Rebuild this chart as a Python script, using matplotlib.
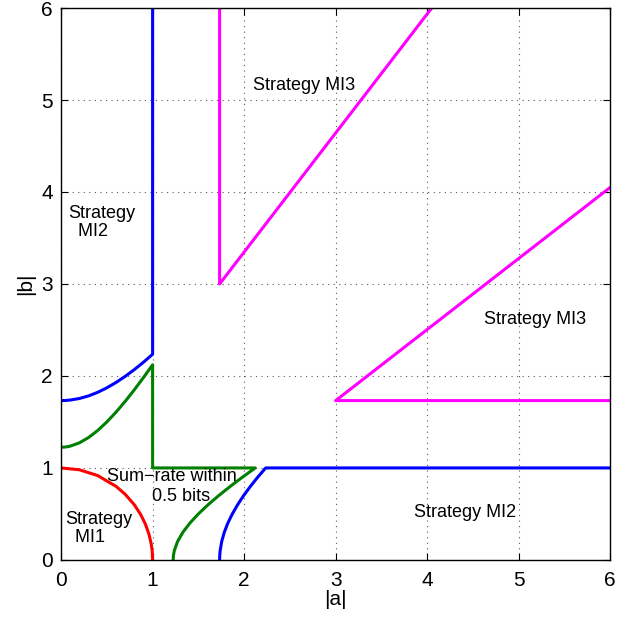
import matplotlib
matplotlib.use('Agg')
import matplotlib.pyplot as plt

plt.rcParams['font.family'] = ['Liberation Sans', 'DejaVu Sans']

# boundary points read off in the (|a|, |b|) plane; every region is
# symmetric under a <-> b so each list also gives its mirror image
mi1_a = [0.0, 0.2, 0.4, 0.6, 0.7, 0.8, 0.87, 0.92, 0.96, 0.985, 0.995, 1.0]
mi1_b = [1.0, 0.980, 0.917, 0.8, 0.714, 0.6, 0.493, 0.392, 0.280, 0.173, 0.100, 0.0]

mi2_a = [0.0, 0.05, 0.1, 0.2, 0.3, 0.4, 0.5, 0.6, 0.7, 0.8, 0.9, 1.0]
mi2_b = [1.732, 1.7335, 1.738, 1.755, 1.783, 1.822, 1.871, 1.929, 1.995, 2.069, 2.149, 2.236]

gap_a = [0.0, 0.05, 0.1, 0.2, 0.3, 0.4, 0.5, 0.6, 0.7, 0.8, 0.9, 1.0]
gap_b = [1.2247, 1.2278, 1.2369, 1.2728, 1.3304, 1.4071, 1.5, 1.6062, 1.7234, 1.8493, 1.9824, 2.1213]

mi3_a = [1.732, 1.732, 4.05]
mi3_b = [6.0, 3.0, 6.0]

ticks = [0, 1, 2, 3, 4, 5, 6]

lw = 2.2
fig = plt.figure(figsize=(6.43, 6.18), dpi=100)
ax = fig.add_axes([0.095, 0.094, 0.854, 0.893])

# Strategy MI1 (quarter circle)
ax.plot(mi1_a, mi1_b, color='red', lw=lw)

# Strategy MI2 boundaries, one on each side
ax.plot(mi2_a + [mi2_a[-1]], mi2_b + [6.0], color='blue', lw=lw)
ax.plot(mi2_b + [6.0], mi2_a + [mi2_a[-1]], color='blue', lw=lw)

# sum-rate within 0.5 bits: curve, corner at (1,1), mirrored curve
ga = gap_a + [1.0] + gap_b[::-1]
gb = gap_b + [1.0] + gap_a[::-1]
ax.plot(ga, gb, color='green', lw=lw)

# Strategy MI3 wedges
ax.plot(mi3_a, mi3_b, color='magenta', lw=lw)
ax.plot(mi3_b, mi3_a, color='magenta', lw=lw)

ax.set_xlim(0, 6)
ax.set_ylim(0, 6)
ax.set_xticks(ticks)
ax.set_yticks(ticks)
ax.tick_params(direction='in', top=True, right=True, length=5,
               labelsize=15)
ax.tick_params(axis='x', pad=8)
ax.tick_params(axis='y', pad=6)
ax.grid(True, color='0.35', linestyle=(0, (1, 4)), linewidth=0.8)
for s in ax.spines.values():
    s.set_linewidth(1.0)

ax.set_xlabel('|a|', fontsize=15, labelpad=0)
ax.set_ylabel('|b|', fontsize=15, labelpad=4)

fs = 13
ax.text(2.66, 5.16, 'Strategy MI3', fontsize=fs, ha='center', va='center')
ax.text(5.18, 2.61, 'Strategy MI3', fontsize=fs, ha='center', va='center')
ax.text(4.41, 0.51, 'Strategy MI2', fontsize=fs, ha='center', va='center')
ax.text(0.075, 3.67, 'Strategy\n  MI2', fontsize=fs, ha='left', va='center',
        linespacing=1.1)
ax.text(0.045, 0.34, 'Strategy\n  MI1', fontsize=fs, ha='left', va='center',
        linespacing=1.1)
ax.text(1.21, 0.905, 'Sum\u2212rate within', fontsize=fs, ha='center', va='center')
ax.text(1.31, 0.69, '0.5 bits', fontsize=fs, ha='center', va='center')

fig.savefig('out.png', dpi=100)
